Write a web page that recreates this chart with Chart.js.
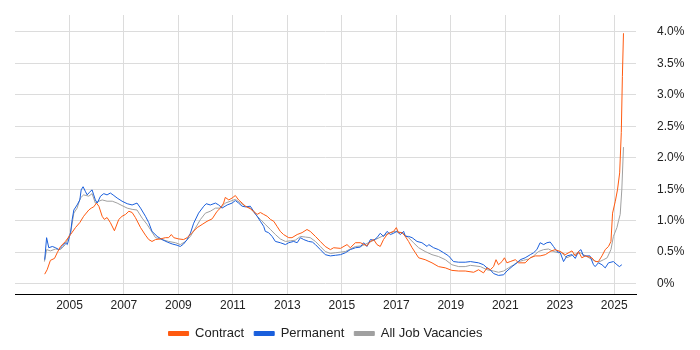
<!DOCTYPE html>
<html><head><meta charset="utf-8">
<script src="https://cdn.jsdelivr.net/npm/chart.js@4/dist/chart.umd.min.js"></script>
<style>html,body{margin:0;padding:0;background:#fff}#wrap{width:700px;height:350px}</style>
</head><body><div id="wrap"><canvas id="c" width="700" height="350"></canvas></div>
<script>
const seriesNames = ["Contract", "Permanent", "All Job Vacancies"];
const yTickValues = [0, 0.5, 1, 1.5, 2, 2.5, 3, 3.5, 4];
const xTickYears = [2005, 2007, 2009, 2011, 2013, 2015, 2017, 2019, 2021, 2023, 2025];

const contractYears = [2004.09,2004.18,2004.30,2004.45,2004.55,2004.67,2004.85,2005.04,2005.22,2005.38,2005.52,2005.71,2005.80,2005.89,2005.99,2006.08,2006.20,2006.28,2006.38,2006.50,2006.65,2006.81,2006.93,2007.06,2007.18,2007.30,2007.42,2007.61,2007.79,2007.91,2008.03,2008.16,2008.34,2008.52,2008.64,2008.74,2008.83,2009.01,2009.19,2009.32,2009.50,2009.69,2009.87,2010.05,2010.24,2010.42,2010.54,2010.66,2010.72,2010.85,2010.97,2011.09,2011.21,2011.34,2011.46,2011.64,2011.76,2011.89,2012.01,2012.13,2012.26,2012.38,2012.50,2012.62,2012.74,2012.86,2013.05,2013.17,2013.36,2013.54,2013.72,2013.84,2014.03,2014.21,2014.39,2014.58,2014.70,2014.95,2015.19,2015.31,2015.50,2015.68,2015.92,2016.05,2016.17,2016.29,2016.41,2016.53,2016.66,2016.78,2016.90,2017.00,2017.08,2017.21,2017.33,2017.45,2017.58,2017.70,2017.82,2018.06,2018.31,2018.55,2018.80,2019.04,2019.29,2019.53,2019.84,2020.02,2020.20,2020.33,2020.45,2020.57,2020.66,2020.75,2020.88,2020.97,2021.06,2021.18,2021.37,2021.49,2021.73,2021.92,2022.10,2022.28,2022.47,2022.65,2022.83,2023.02,2023.20,2023.45,2023.57,2023.69,2023.81,2023.94,2024.18,2024.30,2024.42,2024.55,2024.67,2024.79,2024.88,2024.94,2025.04,2025.12,2025.20,2025.26,2025.30,2025.34];
const contractPct = [0.15,0.22,0.37,0.40,0.49,0.59,0.67,0.78,0.89,0.97,1.07,1.17,1.20,1.22,1.28,1.23,1.07,1.02,1.05,0.97,0.84,1.02,1.07,1.10,1.15,1.13,1.05,0.89,0.77,0.70,0.67,0.70,0.71,0.73,0.73,0.78,0.73,0.71,0.70,0.73,0.81,0.89,0.94,0.99,1.03,1.15,1.20,1.28,1.37,1.33,1.36,1.40,1.33,1.28,1.23,1.19,1.15,1.10,1.13,1.10,1.07,1.02,0.99,0.91,0.83,0.78,0.73,0.73,0.78,0.81,0.86,0.83,0.75,0.67,0.59,0.54,0.57,0.56,0.62,0.57,0.65,0.65,0.60,0.67,0.70,0.62,0.59,0.70,0.78,0.81,0.83,0.89,0.81,0.81,0.75,0.67,0.57,0.49,0.41,0.38,0.33,0.27,0.25,0.21,0.20,0.20,0.18,0.22,0.17,0.25,0.22,0.27,0.38,0.30,0.35,0.41,0.33,0.35,0.38,0.33,0.33,0.41,0.44,0.44,0.46,0.51,0.54,0.51,0.46,0.52,0.44,0.51,0.41,0.44,0.41,0.35,0.35,0.44,0.54,0.59,0.67,1.12,1.31,1.49,1.76,2.40,3.29,3.98];

const permanentYears = [2004.09,2004.16,2004.24,2004.37,2004.49,2004.61,2004.73,2004.85,2004.92,2005.04,2005.10,2005.16,2005.28,2005.38,2005.43,2005.50,2005.59,2005.65,2005.73,2005.83,2005.89,2005.95,2006.02,2006.14,2006.26,2006.38,2006.50,2006.63,2006.75,2006.93,2007.12,2007.30,2007.48,2007.61,2007.79,2007.91,2008.03,2008.22,2008.40,2008.59,2008.77,2008.95,2009.07,2009.19,2009.32,2009.44,2009.56,2009.74,2009.93,2010.02,2010.17,2010.36,2010.48,2010.60,2010.79,2010.97,2011.09,2011.21,2011.34,2011.46,2011.64,2011.76,2011.89,2012.01,2012.13,2012.19,2012.31,2012.44,2012.56,2012.74,2012.93,2013.05,2013.23,2013.36,2013.48,2013.60,2013.78,2013.92,2014.03,2014.21,2014.39,2014.58,2014.76,2014.95,2015.13,2015.31,2015.50,2015.68,2015.80,2015.92,2016.05,2016.17,2016.29,2016.41,2016.53,2016.66,2016.78,2016.90,2017.02,2017.15,2017.27,2017.33,2017.45,2017.58,2017.76,2017.94,2018.13,2018.19,2018.37,2018.55,2018.74,2018.92,2019.10,2019.29,2019.53,2019.72,2020.02,2020.20,2020.33,2020.45,2020.57,2020.75,2020.94,2021.06,2021.25,2021.43,2021.55,2021.73,2021.92,2022.04,2022.16,2022.28,2022.41,2022.53,2022.65,2022.77,2022.90,2023.02,2023.14,2023.26,2023.45,2023.57,2023.69,2023.78,2023.87,2024.11,2024.24,2024.30,2024.42,2024.55,2024.67,2024.79,2024.97,2025.10,2025.19,2025.28];
const permanentPct = [0.38,0.73,0.57,0.59,0.57,0.54,0.59,0.65,0.62,0.81,1.02,1.17,1.25,1.33,1.49,1.54,1.46,1.41,1.45,1.49,1.41,1.33,1.28,1.39,1.43,1.41,1.44,1.40,1.36,1.31,1.27,1.25,1.28,1.20,1.07,0.97,0.83,0.75,0.70,0.66,0.63,0.61,0.59,0.63,0.70,0.80,0.96,1.12,1.23,1.27,1.25,1.28,1.25,1.20,1.25,1.28,1.32,1.28,1.23,1.22,1.23,1.15,1.07,0.99,0.91,0.83,0.81,0.75,0.67,0.65,0.62,0.65,0.67,0.65,0.73,0.70,0.67,0.66,0.62,0.54,0.46,0.44,0.45,0.46,0.49,0.54,0.57,0.58,0.65,0.59,0.70,0.69,0.73,0.80,0.75,0.83,0.78,0.80,0.83,0.78,0.83,0.75,0.75,0.73,0.67,0.65,0.59,0.62,0.57,0.54,0.49,0.44,0.35,0.34,0.34,0.35,0.33,0.30,0.25,0.22,0.16,0.13,0.14,0.20,0.27,0.33,0.38,0.41,0.46,0.49,0.54,0.65,0.62,0.65,0.66,0.59,0.51,0.49,0.35,0.44,0.46,0.40,0.51,0.54,0.44,0.44,0.30,0.27,0.33,0.30,0.25,0.33,0.35,0.30,0.27,0.30];

const allYears = [2004.08,2004.16,2004.30,2004.49,2004.67,2004.85,2005.04,2005.16,2005.28,2005.40,2005.52,2005.71,2005.83,2005.95,2006.08,2006.20,2006.38,2006.57,2006.75,2006.93,2007.12,2007.30,2007.48,2007.67,2007.85,2007.97,2008.16,2008.40,2008.64,2008.89,2009.07,2009.26,2009.44,2009.62,2009.81,2009.99,2010.17,2010.36,2010.54,2010.72,2010.91,2011.09,2011.28,2011.46,2011.64,2011.83,2012.01,2012.19,2012.38,2012.56,2012.74,2012.93,2013.11,2013.29,2013.48,2013.66,2013.84,2014.03,2014.21,2014.39,2014.58,2014.76,2014.95,2015.13,2015.31,2015.50,2015.74,2015.98,2016.23,2016.47,2016.72,2016.96,2017.21,2017.45,2017.63,2017.82,2018.06,2018.31,2018.55,2018.80,2019.04,2019.29,2019.53,2019.72,2020.09,2020.33,2020.57,2020.75,2020.94,2021.12,2021.31,2021.49,2021.67,2021.86,2022.04,2022.22,2022.41,2022.59,2022.77,2022.96,2023.02,2023.26,2023.51,2023.75,2023.99,2024.24,2024.42,2024.61,2024.74,2024.88,2024.97,2025.10,2025.16,2025.22,2025.28,2025.34];
const allPct = [0.35,0.54,0.52,0.55,0.54,0.62,0.81,1.12,1.20,1.36,1.41,1.39,1.43,1.28,1.31,1.33,1.31,1.31,1.28,1.24,1.20,1.18,1.17,1.04,0.94,0.86,0.73,0.70,0.67,0.65,0.62,0.67,0.75,0.88,1.02,1.12,1.15,1.20,1.20,1.28,1.31,1.34,1.28,1.23,1.20,1.10,1.02,0.94,0.86,0.78,0.71,0.67,0.68,0.69,0.75,0.74,0.73,0.67,0.59,0.51,0.48,0.49,0.50,0.51,0.55,0.59,0.60,0.65,0.70,0.75,0.80,0.83,0.81,0.73,0.65,0.57,0.51,0.46,0.43,0.38,0.30,0.27,0.27,0.29,0.27,0.22,0.20,0.18,0.20,0.25,0.30,0.35,0.37,0.39,0.44,0.51,0.54,0.55,0.51,0.49,0.51,0.41,0.46,0.49,0.43,0.37,0.34,0.38,0.41,0.54,0.75,0.89,1.00,1.10,1.50,2.17];

const colors = ["#ff5a10", "#1a5fdc", "#a0a0a0"];

function pts(xs, ys) { return xs.map((x, i) => ({x: x, y: ys[i]})); }

new Chart(document.getElementById("c"), {
  type: "line",
  data: {
    datasets: [
      {label: seriesNames[0], data: pts(contractYears, contractPct), borderColor: colors[0], backgroundColor: colors[0]},
      {label: seriesNames[1], data: pts(permanentYears, permanentPct), borderColor: colors[1], backgroundColor: colors[1]},
      {label: seriesNames[2], data: pts(allYears, allPct), borderColor: colors[2], backgroundColor: colors[2]}
    ]
  },
  options: {
    responsive: false,
    animation: false,
    layout: {padding: {left: 15, right: 16, top: 15, bottom: 0}},
    elements: {line: {borderWidth: 1, tension: 0}, point: {radius: 0}},
    plugins: {
      legend: {
        position: "bottom",
        fullSize: false,
        labels: {boxWidth: 20, boxHeight: 4, padding: 10, color: "#222", font: {family: "Liberation Sans, Arial", size: 13}}
      },
      tooltip: {enabled: false}
    },
    scales: {
      x: {
        type: "linear", min: 2003.0, max: 2025.8,
        afterBuildTicks: (ax) => { ax.ticks = xTickYears.map(v => ({value: v})); },
        afterFit: (ax) => { ax.paddingLeft = 0; ax.paddingRight = 0; },
        ticks: {color: "#222", font: {family: "Liberation Sans, Arial", size: 12}, callback: (v) => String(v), maxRotation: 0, padding: 4},
        grid: {color: "#dcdcdc", drawTicks: false},
        border: {color: "#000", width: 1}
      },
      y: {
        position: "right", min: -0.175, max: 4.27,
        afterBuildTicks: (ax) => { ax.ticks = yTickValues.map(v => ({value: v})); },
        afterFit: (ax) => { ax.width = 48; ax.paddingTop = 0; ax.paddingBottom = 0; },
        ticks: {color: "#222", font: {family: "Liberation Sans, Arial", size: 12}, padding: 21,
          callback: (v) => v === 0 ? "0%" : v.toFixed(1) + "%"},
        grid: {color: "#dcdcdc", drawTicks: false},
        border: {display: false}
      }
    }
  }
});
</script></body></html>
